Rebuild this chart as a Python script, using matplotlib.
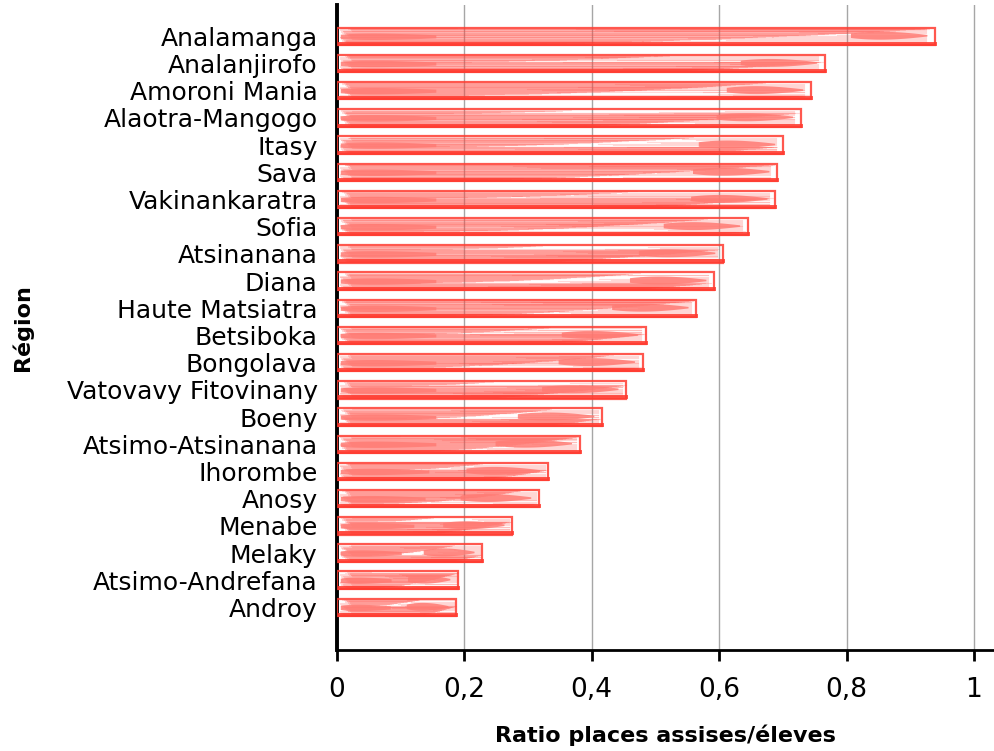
import numpy as np
import matplotlib.pyplot as plt
from matplotlib.patches import Polygon

regions = ["Analamanga", "Analanjirofo", "Amoroni Mania", "Alaotra-Mangogo", "Itasy",
           "Sava", "Vakinankaratra", "Sofia", "Atsinanana", "Diana", "Haute Matsiatra",
           "Betsiboka", "Bongolava", "Vatovavy Fitovinany", "Boeny", "Atsimo-Atsinanana",
           "Ihorombe", "Anosy", "Menabe", "Melaky", "Atsimo-Andrefana", "Androy"]
ratio = [0.939, 0.766, 0.744, 0.728, 0.700, 0.691, 0.688, 0.645, 0.606, 0.592, 0.564,
         0.485, 0.480, 0.454, 0.416, 0.381, 0.331, 0.317, 0.275, 0.228, 0.190, 0.187]
xticks = [0, 0.2, 0.4, 0.6, 0.8, 1]
xticklabels = ["0", "0,2", "0,4", "0,6", "0,8", "1"]

plt.rcParams['font.family'] = ['DejaVu Sans']

fig = plt.figure(figsize=(9.94, 7.51), dpi=100)
ax = fig.add_axes([0.339, 0.134, 0.66, 0.859])

edge = '#ff3b30'
stroke = '#ff4a42'
fill = '#ff7b74'
h = 0.64
ypos = np.arange(len(regions))
t = np.linspace(0, 1, 40)

for i, v in enumerate(ratio):
    y = ypos[i]
    # sketchy hachure strokes, all starting near the axis -> dense on the left
    for k in range(48):
        dy = -h * 0.46 + h * 0.9 * ((k * 0.381966 + i * 0.13) % 1)
        f = 0.2 + 0.8 * ((k * 0.618034 + i * 0.271) % 1) ** 0.55
        x0 = 0.004 + 0.02 * ((k * 0.7548) % 1)
        ax.plot([x0, v * f], [y + dy, y + dy], color=stroke, alpha=0.2, lw=0.8,
                solid_capstyle='round', zorder=3)
    # strokes near the right end to thicken the texture there
    for k in range(14):
        dy = -h * 0.42 + h * 0.8 * ((k * 0.618034 + i * 0.21) % 1)
        xa = v * (0.4 + 0.45 * ((k * 0.414214) % 1))
        ax.plot([xa, v * 0.985], [y + dy, y + dy], color=stroke, alpha=0.2, lw=0.8,
                zorder=3)
    # solid brush near the left, a teardrop fading to the right
    L = min(0.15, v * 0.42)
    xs = 0.006 + L * t
    half = h * 0.3 * np.sqrt(np.clip(np.sin(np.pi * (0.5 * t + 0.05)), 0, 1)) * (1 - 0.7 * t)
    cy = y + 0.02
    ax.add_patch(Polygon(np.c_[np.r_[xs, xs[::-1]], np.r_[cy - half, (cy + half)[::-1]]],
                         closed=True, color=fill, alpha=0.85, lw=0, zorder=3))
    # tapered brush tip at the right end
    L2 = min(0.12, v * 0.35)
    xs2 = v - 0.012 - L2 * (1 - t)
    half2 = h * 0.3 * np.sqrt(np.clip(np.sin(np.pi * np.clip(t * 0.55 + 0.06, 0, 1)), 0, 1)) * (1 - 0.85 * t ** 2)
    ax.add_patch(Polygon(np.c_[np.r_[xs2, xs2[::-1]], np.r_[y - 0.02 - half2, (y - 0.02 + half2)[::-1]]],
                         closed=True, color=fill, alpha=0.85, lw=0, zorder=3))
    # outline and heavier bottom stroke
    ax.barh(y, v, height=h, color='none', edgecolor=edge, linewidth=1.6, alpha=0.85, zorder=4)
    ax.plot([0.004, v], [y + h * 0.44, y + h * 0.44], color=edge, lw=2.8, alpha=0.9, zorder=4)

ax.set_yticks(ypos)
ax.set_yticklabels(regions, fontsize=18)
ax.set_ylim(len(regions) - 1 + 1.58, -1.14)
ax.tick_params(axis='y', length=0, pad=14)

ax.set_xlim(0, 1.03)
ax.set_xticks(xticks)
ax.set_xticklabels(xticklabels, fontsize=19)
ax.tick_params(axis='x', length=8, width=2, pad=11)

ax.grid(axis='x', color='#a6a6a6', lw=1, zorder=0)
ax.set_axisbelow(True)
for s in ['top', 'right']:
    ax.spines[s].set_visible(False)
ax.spines['left'].set_linewidth(2.8)
ax.spines['bottom'].set_linewidth(2)

ax.set_xlabel("Ratio places assises/éleves", fontsize=16, fontweight='bold', labelpad=16)
ax.set_ylabel("Région", fontsize=16, fontweight='bold', labelpad=24)

fig.savefig("out.png", dpi=100)
